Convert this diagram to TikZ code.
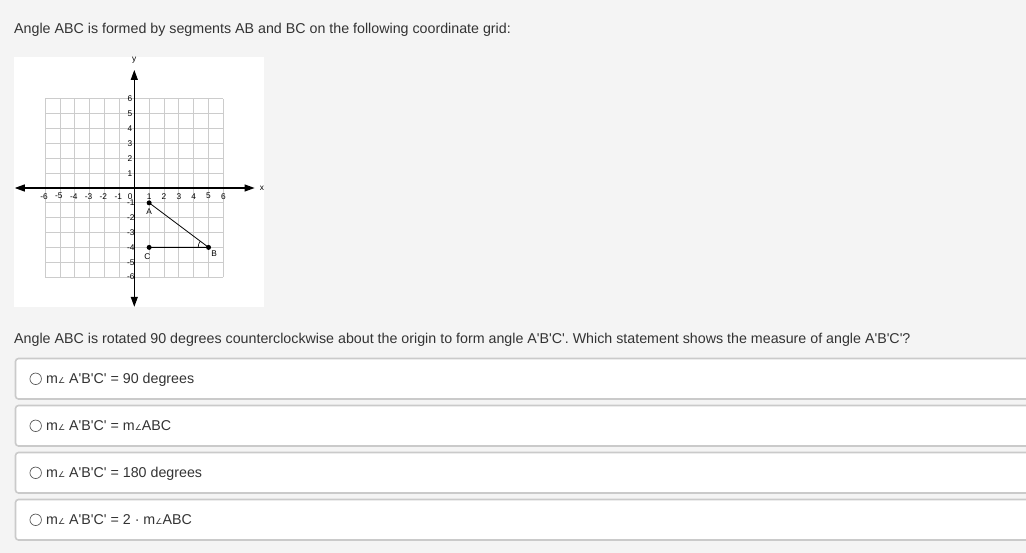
\documentclass[tikz,border=0pt]{standalone}
\usepackage{fontspec}
\newfontfamily\lsans{Liberation Sans}
\newfontfamily\djv{DejaVu Sans}
\usetikzlibrary{arrows.meta}
\definecolor{bg}{HTML}{F4F4F4}
\definecolor{txt}{HTML}{333333}
\definecolor{gridc}{HTML}{CCCCCC}
\definecolor{boxc}{HTML}{CACACA}
\newcommand{\angsym}{{\djv\fontsize{8}{8}\selectfont ∠}}
\begin{document}
\begin{tikzpicture}[x=1pt,y=-1pt, font=\lsans,
 qtext/.style={anchor=base west, inner sep=0pt, text=txt, font=\lsans\fontsize{14.25}{16}\selectfont},
 optbox/.style={draw=boxc, line width=1.6pt, fill=white, rounded corners=3pt},
 radio/.style={draw=black!65, line width=0.7pt, circle, minimum size=11.5pt, inner sep=0pt, fill=white},
 tick/.style={font=\lsans\fontsize{8.3}{9}\selectfont, inner sep=0pt},
 dot/.style={circle, fill=black, inner sep=0pt, minimum size=5pt},
 axisline/.style={line width=1.1pt, {Triangle[length=10pt,width=7pt]}-{Triangle[length=10pt,width=7pt]}}
]
\useasboundingbox[fill=bg] (0,0) rectangle (1026,553);
% question text
\node[qtext] (q1) at (14,33.3) {Angle ABC is formed by segments AB and BC on the following coordinate grid:};
\node[qtext] (q2) at (14,343.3) {Angle ABC is rotated 90 degrees counterclockwise about the origin to form angle A'B'C'. Which statement shows the measure of angle A'B'C'?};
% graph image background
\fill[white] (14,57) rectangle (264,307.5);
\begin{scope}[shift={(134.3,188)}, x=14.85pt, y=14.85pt]
  \foreach \g in {-6,...,6} {
    \draw[gridc, line width=0.9pt] (\g,-6) -- (\g,6);
    \draw[gridc, line width=0.9pt] (-6,\g) -- (6,\g);
  }
  \coordinate (xl) at (-8.05,0); \coordinate (xr) at (8.1,0);
  \coordinate (yt) at (0,7.95); \coordinate (yb) at (0,-8.0);
  \draw[axisline] (xl) -- (xr);
  \draw[axisline] (yb) -- (yt);
  \node[tick] (lx) at (8.6,0) {x};
  \node[tick] (ly) at (0,8.6) {y};
  \foreach \i in {1,...,6} {
    \node[tick] (xp\i) at (\i,-0.55) {\i};
    \node[tick] (xn\i) at (-\i-0.08,-0.55) {-\i};
    \node[tick, anchor=east] (yp\i) at (-0.13,\i) {\i};
    \node[tick, anchor=east] (yn\i) at (0.02,-\i) {-\i};
  }
  \node[tick] (x0) at (-0.27,-0.55) {0};
  \node[dot] (A) at (1,-1) {};
  \node[dot] (B) at (5,-4) {};
  \node[dot] (C) at (1,-4) {};
  \draw[line width=0.8pt] (A.center) -- (B.center) -- (C.center);
  \draw[line width=0.6pt] ([shift={(180:0.7)}]B.center) arc[start angle=180, end angle=143.13, radius=0.7];
  \node[tick] (lA) at (1.0,-1.6) {A};
  \node[tick] (lC) at (0.88,-4.6) {C};
  \node[tick] (lB) at (5.37,-4.4) {B};
\end{scope}
% options
\foreach \k/\t in {0/{m\angsym{} A'B'C' = 90 degrees},1/{m\angsym{} A'B'C' = m\angsym ABC},2/{m\angsym{} A'B'C' = 180 degrees},3/{m\angsym{} A'B'C' = 2 · m\angsym ABC}} {
  \draw[optbox] (15.5,358.5+47*\k) rectangle (1040,399+47*\k);
  \node[radio] (r\k) at (35.7,378.8+47*\k) {};
  \node[qtext] (o\k) at (46,383.8+47*\k) {\t};
}
\end{tikzpicture}
\end{document}
